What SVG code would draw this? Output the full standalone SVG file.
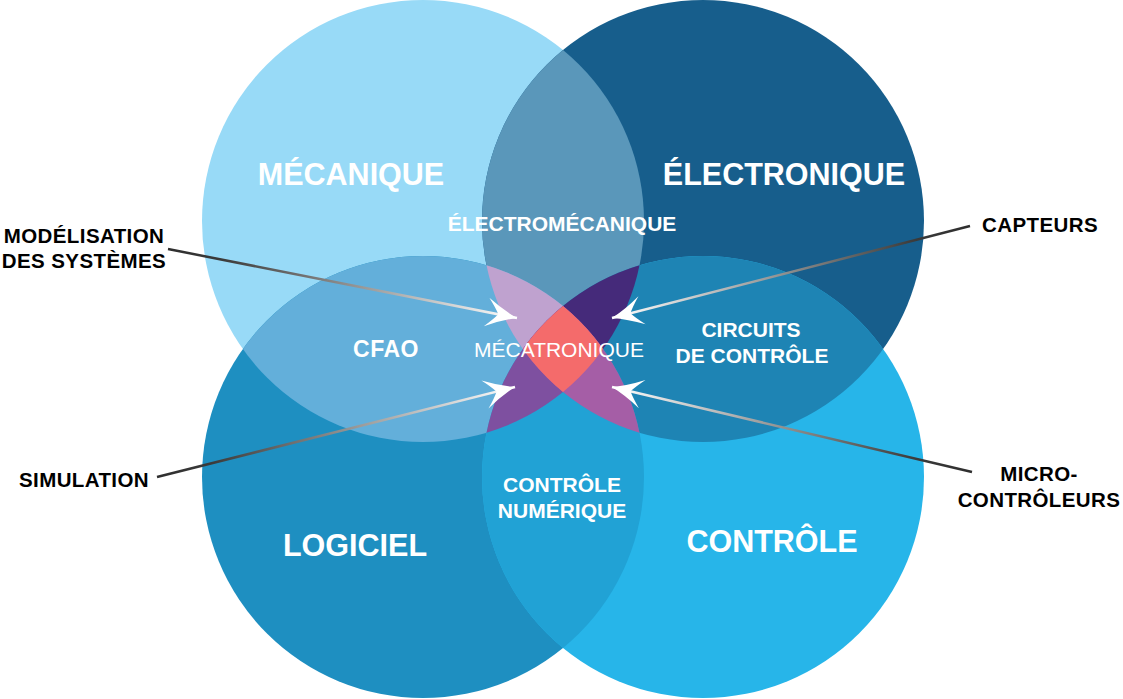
<svg xmlns="http://www.w3.org/2000/svg" width="1123" height="699" viewBox="0 0 1123 699">
<style>
.lbl{font-family:"Liberation Sans",Arial,Helvetica,sans-serif;fill:#fff;text-anchor:middle}
.big{font-size:30.5px;font-weight:bold}
.mid{font-size:21px;font-weight:bold}
.reg{font-size:21px;font-weight:normal}
.out{font-family:"Liberation Sans",Arial,Helvetica,sans-serif;fill:#000;font-size:20.5px;font-weight:bold;letter-spacing:0.4px;text-anchor:middle}
.conn{stroke-width:2.5;fill:none;marker-end:url(#arrow)}
</style>
<defs>
<clipPath id="cA"><circle cx="423" cy="221" r="221"/></clipPath>
<clipPath id="cB"><circle cx="703" cy="221" r="221"/></clipPath>
<clipPath id="cC"><circle cx="423" cy="477" r="221"/></clipPath>
<clipPath id="cD"><circle cx="703" cy="477" r="221"/></clipPath>
<marker id="arrow" markerUnits="userSpaceOnUse" viewBox="-33 -16 34 32" refX="0" refY="0" markerWidth="34" markerHeight="32" orient="auto">
<path d="M0,0 Q-15,-5 -31,-14.5 Q-23,-6 -19,0 Q-23,6 -31,14.5 Q-15,5 0,0 Z" fill="#fff"/>
</marker>
<linearGradient id="g1" gradientUnits="userSpaceOnUse" x1="168" y1="249" x2="517" y2="318"><stop offset="0" stop-color="#2e2e2e"/><stop offset="0.15" stop-color="#3a3a3a"/><stop offset="1" stop-color="#fff"/></linearGradient>
<linearGradient id="g2" gradientUnits="userSpaceOnUse" x1="157" y1="477" x2="515" y2="387"><stop offset="0" stop-color="#2e2e2e"/><stop offset="0.15" stop-color="#3a3a3a"/><stop offset="1" stop-color="#fff"/></linearGradient>
<linearGradient id="g3" gradientUnits="userSpaceOnUse" x1="970" y1="226" x2="612" y2="318"><stop offset="0" stop-color="#2e2e2e"/><stop offset="0.15" stop-color="#3a3a3a"/><stop offset="1" stop-color="#fff"/></linearGradient>
<linearGradient id="g4" gradientUnits="userSpaceOnUse" x1="972" y1="472" x2="612" y2="387"><stop offset="0" stop-color="#2e2e2e"/><stop offset="0.15" stop-color="#3a3a3a"/><stop offset="1" stop-color="#fff"/></linearGradient>
</defs>
<rect width="1123" height="699" fill="#fff"/>

<g id="mecanique">
<circle cx="423" cy="221" r="221" fill="#98DAF7"/>
</g>
<g id="electronique">
<circle cx="703" cy="221" r="221" fill="#175E8C"/>
</g>
<g id="logiciel">
<circle cx="423" cy="477" r="221" fill="#1E8FC1"/>
</g>
<g id="controle">
<circle cx="703" cy="477" r="221" fill="#27B5E9"/>
</g>

<g id="electromecanique">
<g clip-path="url(#cA)"><circle cx="703" cy="221" r="221" fill="#5A97BA"/></g>
</g>
<g id="cfao">
<g clip-path="url(#cA)"><circle cx="423" cy="477" r="221" fill="#63AFDA"/></g>
</g>
<g id="circuits-de-controle">
<g clip-path="url(#cB)"><circle cx="703" cy="477" r="221" fill="#1E84B4"/></g>
</g>
<g id="controle-numerique">
<g clip-path="url(#cC)"><circle cx="703" cy="477" r="221" fill="#21A2D5"/></g>
</g>

<g id="triple-abc">
<g clip-path="url(#cA)"><g clip-path="url(#cB)"><circle cx="423" cy="477" r="221" fill="#BFA2CF"/></g></g>
</g>
<g id="triple-abd">
<g clip-path="url(#cA)"><g clip-path="url(#cB)"><circle cx="703" cy="477" r="221" fill="#452A7A"/></g></g>
</g>
<g id="triple-acd">
<g clip-path="url(#cA)"><g clip-path="url(#cC)"><circle cx="703" cy="477" r="221" fill="#7E50A0"/></g></g>
</g>
<g id="triple-bcd">
<g clip-path="url(#cB)"><g clip-path="url(#cC)"><circle cx="703" cy="477" r="221" fill="#A55EA6"/></g></g>
</g>
<g id="mecatronique">
<g clip-path="url(#cA)"><g clip-path="url(#cB)"><g clip-path="url(#cC)"><circle cx="703" cy="477" r="221" fill="#F46B6B"/></g></g></g>
</g>

<g id="connectors">
<line class="conn" x1="168" y1="249" x2="517" y2="318" stroke="url(#g1)"/>
<line class="conn" x1="157" y1="477" x2="515" y2="387" stroke="url(#g2)"/>
<line class="conn" x1="970" y1="226" x2="612" y2="318" stroke="url(#g3)"/>
<line class="conn" x1="972" y1="472" x2="612" y2="387" stroke="url(#g4)"/>
</g>

<g id="labels">
<text class="lbl big" x="351" y="185">MÉCANIQUE</text>
<text class="lbl big" x="784" y="185">ÉLECTRONIQUE</text>
<text class="lbl big" x="355" y="556">LOGICIEL</text>
<text class="lbl big" x="772" y="552">CONTRÔLE</text>
<text class="lbl mid" x="562" y="231">ÉLECTROMÉCANIQUE</text>
<text class="lbl mid" x="386" y="357" style="font-size:23px;letter-spacing:0.5px">CFAO</text>
<text class="lbl reg" x="559" y="357">MÉCATRONIQUE</text>
<text class="lbl mid" x="751" y="337">CIRCUITS</text>
<text class="lbl mid" x="752" y="363">DE CONTRÔLE</text>
<text class="lbl mid" x="562" y="492">CONTRÔLE</text>
<text class="lbl mid" x="562" y="518">NUMÉRIQUE</text>
</g>

<g id="external-labels">
<text class="out" x="84" y="243">MODÉLISATION</text>
<text class="out" x="84" y="268">DES SYSTÈMES</text>
<text class="out" x="84" y="487">SIMULATION</text>
<text class="out" x="1040" y="232">CAPTEURS</text>
<text class="out" x="1039" y="481">MICRO-</text>
<text class="out" x="1039" y="507">CONTRÔLEURS</text>
</g>
</svg>
